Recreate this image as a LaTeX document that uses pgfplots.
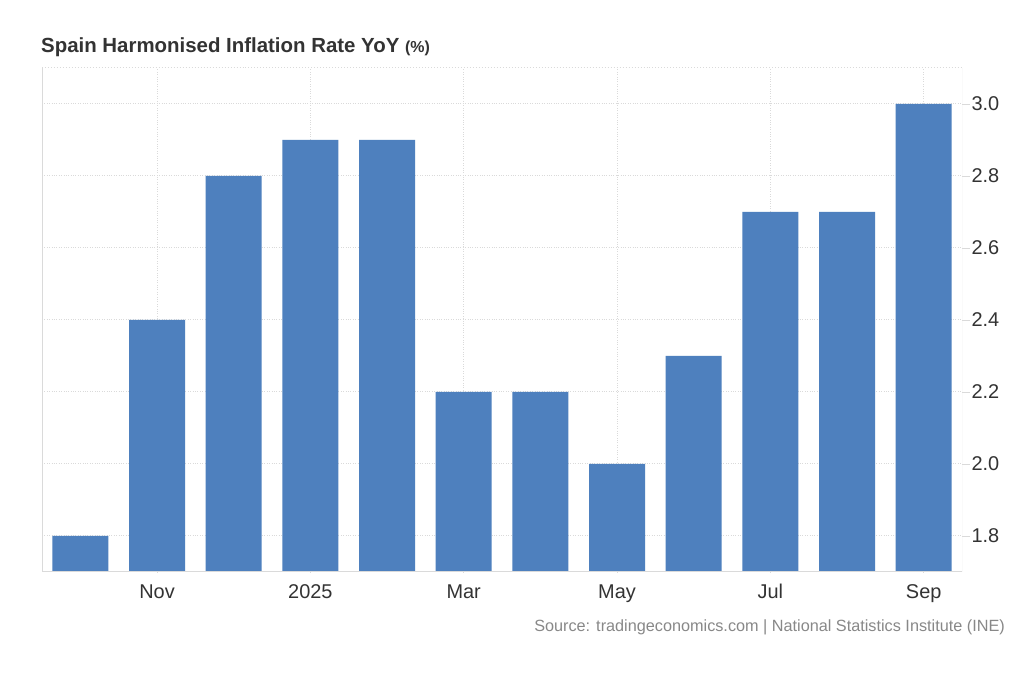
\documentclass[border=0pt]{standalone}
\usepackage{fontspec}
\setmainfont{Liberation Sans}
\usepackage{pgfplots}
\pgfplotsset{compat=1.18}
\definecolor{barblue}{RGB}{78,128,190}
\definecolor{gridgray}{RGB}{218,218,218}
\definecolor{txt}{RGB}{51,51,51}
\definecolor{src}{RGB}{136,136,136}
\begin{document}
\begin{tikzpicture}[x=1bp,y=1bp]
\path[fill=white] (0,0) rectangle (1024,700);
\begin{axis}[
  at={(42bp,128bp)}, anchor=south west,
  scale only axis, width=920bp, height=504bp,
  xmin=-0.5, xmax=11.5, ymin=1.7, ymax=3.1,
  ybar, bar width=56bp, bar shift=0pt,
  axis line style={draw=none},
  xtick={1,3,5,7,9,11},
  xticklabels={Nov,2025,Mar,May,Jul,Sep},
  ytick={1.8,2.0,2.2,2.4,2.6,2.8,3.0},
  yticklabel style={/pgf/number format/fixed,/pgf/number format/fixed zerofill,/pgf/number format/precision=1},
  /pgf/number format/assume math mode=true,
  ytick pos=right, yticklabel pos=right,
  xtick style={draw=none},
  ytick style={draw=gridgray, line width=0.8bp},
  tick align=outside, major tick length=8bp,
  grid=major,
  major grid style={gridgray, dotted, line width=1bp},
  ticklabel style={font=\fontsize{20}{24}\selectfont, text=txt},
  xticklabel style={yshift=-1bp},
  yticklabel style={xshift=-2bp},
  clip=true,
]
\addplot[fill=barblue, draw=none] coordinates {
(0,1.8) (1,2.4) (2,2.8) (3,2.9) (4,2.9) (5,2.2) (6,2.2) (7,2.0) (8,2.3) (9,2.7) (10,2.7) (11,3.0)};
\draw[gridgray, line width=1bp] (rel axis cs:0,1) -- (rel axis cs:0,0) -- (rel axis cs:1,0) -- (rel axis cs:1,1);
\draw[gridgray, dotted, line width=1bp] (rel axis cs:0,1) -- (rel axis cs:1,1);
\end{axis}
\node[anchor=base west, text=txt, inner sep=0pt] at (41,647) {\fontsize{20.5}{24}\selectfont\bfseries Spain Harmonised Inflation Rate YoY {\fontsize{16}{18}\selectfont(\%)}};
\node[anchor=base east, text=src, inner sep=0pt] at (1005,68) {\fontsize{16.3}{19}\selectfont Source: tradingeconomics.com | National Statistics Institute (INE)};
\end{tikzpicture}
\end{document}
